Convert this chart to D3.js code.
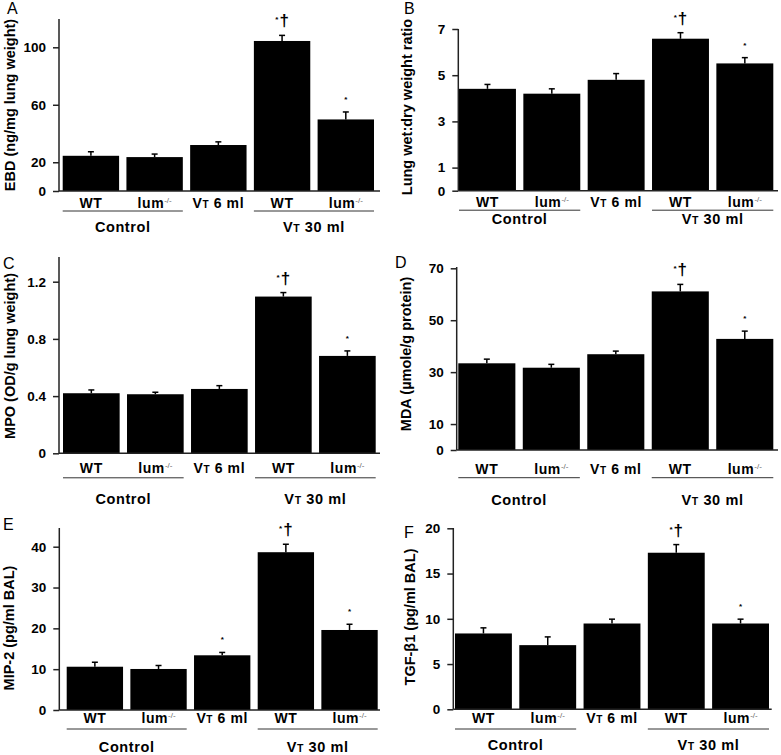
<!DOCTYPE html>
<html lang="en">
<head>
<meta charset="UTF-8">
<title>Lung injury panels</title>
<script src="https://d3js.org/d3.v7.min.js"></script>
<style>
  body { margin: 0; background: #fff; }
  svg text { font-family: "Liberation Sans", Arial, sans-serif; }
</style>
</head>
<body>
<svg id="chart" width="781" height="755"></svg>
<script>
// bar order: Control WT, Control lum-/-, VT 6 ml, VT 30 ml WT, VT 30 ml lum-/-
const categories = ["WT", "lum-/-", "VT 6 ml", "WT", "lum-/-"];
const groupNames = ["Control", "VT 30 ml"];
const groupSpans = [[0, 1], [3, 4]];

const ebdMean = [24.5, 23.6, 32.0, 104.4, 49.8];
const ebdSem = [2.8, 2.1, 2.2, 3.9, 5.2];
const ebdTicks = [0, 20, 60, 100];

const wetDryMean = [4.41, 4.20, 4.80, 6.58, 5.51];
const wetDrySem = [0.19, 0.21, 0.27, 0.26, 0.25];
const wetDryTicks = [0, 1, 3, 5, 7];

const mpoMean = [0.420, 0.413, 0.450, 1.096, 0.681];
const mpoSem = [0.023, 0.014, 0.023, 0.028, 0.035];
const mpoTicks = [0, 0.4, 0.8, 1.2];

const mdaMean = [33.4, 31.7, 36.9, 61.1, 42.8];
const mdaSem = [1.6, 1.3, 1.2, 2.7, 3.0];
const mdaTicks = [0, 10, 30, 50, 70];

const mip2Mean = [10.6, 10.05, 13.4, 38.65, 19.6];
const mip2Sem = [1.1, 0.85, 0.7, 1.95, 1.4];
const mip2Ticks = [0, 10, 20, 30, 40];

const tgfMean = [8.38, 7.09, 9.48, 17.3, 9.48];
const tgfSem = [0.62, 0.91, 0.48, 0.9, 0.48];
const tgfTicks = [0, 5, 10, 15, 20];

const marksStd = ["", "", "", "*†", "*"];
const marksMip2 = ["", "", "*", "*†", "*"];

const letters = ["A", "B", "C", "D", "E", "F"];
const yTitles = ["EBD (ng/mg lung weight)", "Lung wet:dry weight ratio", "MPO (OD/g lung weight)",
                 "MDA (\u00b5mole/g protein)", "MIP-2 (pg/ml BAL)", "TGF-\u03b21 (pg/ml BAL)"];

// layout of each panel (pixel positions only)
const layout = [
  { left: 59, right: 380, zeroY: 191, topY: 47.3, axisTop: 19, bars: [62.7, 374], letter: [7, 13.5], title: [15, 105], wt: 17, line: 20, grp: 41 },
  { left: 458.3, right: 778, zeroY: 190.7, topY: 29, axisTop: 29, bars: [459, 773.3], letter: [404, 13.5], title: [412, 107], wt: 16.5, line: 19.5, grp: 33 },
  { left: 59, right: 380, zeroY: 453.3, topY: 281.7, axisTop: 257, bars: [63, 375.7], letter: [3, 269], title: [15, 356], wt: 20, line: 24.5, grp: 51 },
  { left: 456.7, right: 778, zeroY: 450, topY: 268.3, axisTop: 267, bars: [458.3, 773.3], letter: [395, 268], title: [411, 354], wt: 24, line: 27.7, grp: 55 },
  { left: 59.3, right: 380, zeroY: 710, topY: 546.7, axisTop: 528, bars: [66.7, 377.7], letter: [3, 530], title: [14, 628], wt: 13, line: 19, grp: 42 },
  { left: 453.3, right: 771.7, zeroY: 709.3, topY: 528.3, axisTop: 528, bars: [455, 769], letter: [404, 538], title: [415, 617], wt: 13.5, line: 19.7, grp: 41 }
];

const panels = [
  { mean: ebdMean, sem: ebdSem, ticks: ebdTicks, marks: marksStd },
  { mean: wetDryMean, sem: wetDrySem, ticks: wetDryTicks, marks: marksStd },
  { mean: mpoMean, sem: mpoSem, ticks: mpoTicks, marks: marksStd },
  { mean: mdaMean, sem: mdaSem, ticks: mdaTicks, marks: marksStd },
  { mean: mip2Mean, sem: mip2Sem, ticks: mip2Ticks, marks: marksMip2 },
  { mean: tgfMean, sem: tgfSem, ticks: tgfTicks, marks: marksStd }
];

const svg = d3.select("#chart");

function writeCategory(t, label) {
  if (label.includes("-/-")) {
    t.append("tspan").text(label.replace("-/-", ""));
    t.append("tspan").attr("font-size", 8).attr("font-weight", "normal")
      .attr("fill", "#666").attr("dy", -5).attr("letter-spacing", 0).text("-/-");
  } else if (label.startsWith("VT")) {
    t.append("tspan").text("V");
    t.append("tspan").attr("font-size", 10).text("T");
    t.append("tspan").text(label.slice(2));
  } else {
    t.text(label);
  }
}

function writeGroup(t, label) {
  if (label.startsWith("VT")) {
    t.append("tspan").text("V");
    t.append("tspan").attr("font-size", 10.5).text("T");
    t.append("tspan").text(label.slice(2));
  } else {
    t.text(label);
  }
}

panels.forEach((p, i) => {
  const L = layout[i];
  const g = svg.append("g");
  const top = p.ticks[p.ticks.length - 1];

  const x = d3.scaleBand()
    .domain(d3.range(categories.length))
    .range(L.bars)
    .paddingInner(0.115)
    .paddingOuter(0);

  const y = d3.scaleLinear().domain([0, top]).range([L.zeroY, L.topY]);

  // bars
  g.selectAll("rect.bar")
    .data(p.mean)
    .enter().append("rect")
    .attr("x", (d, j) => x(j))
    .attr("y", d => y(d))
    .attr("width", x.bandwidth())
    .attr("height", d => y(0) - y(d))
    .attr("fill", "#000");

  // error bars + significance marks
  p.mean.forEach((m, j) => {
    const cx = x(j) + x.bandwidth() / 2;
    const yTop = y(m + p.sem[j]);
    g.append("line").attr("x1", cx).attr("x2", cx).attr("y1", y(m)).attr("y2", yTop)
      .attr("stroke", "#000").attr("stroke-width", 1.5);
    g.append("line").attr("x1", cx - 3).attr("x2", cx + 3).attr("y1", yTop).attr("y2", yTop)
      .attr("stroke", "#000").attr("stroke-width", 1.5);

    const mk = p.marks[j];
    if (mk === "*†") {
      const t = g.append("text").attr("x", cx).attr("y", yTop - 9)
        .attr("text-anchor", "middle").attr("font-weight", "bold");
      t.append("tspan").attr("font-size", 8).attr("dy", -4).text("*");
      t.append("tspan").attr("font-size", 17).attr("dy", 4).attr("dx", 1).text("\u2020");
    } else if (mk === "*") {
      g.append("text").attr("x", cx).attr("y", yTop - 10)
        .attr("text-anchor", "middle").attr("font-weight", "bold")
        .attr("font-size", 8).text("*");
    }
  });

  // y axis
  const axis = g.append("g")
    .attr("transform", `translate(${L.left},0)`)
    .call(d3.axisLeft(y).tickValues(p.ticks).tickSize(6).tickPadding(7)
      .tickFormat(d => String(d)));
  axis.select(".domain").remove();
  axis.selectAll(".tick line").attr("stroke", "#222").attr("stroke-width", 1.5);
  axis.selectAll(".tick text").attr("font-size", 13.5).attr("font-weight", "bold")
    .attr("fill", "#000").attr("font-family", "Liberation Sans, Arial, sans-serif");

  g.append("line").attr("x1", L.left).attr("x2", L.left)
    .attr("y1", L.zeroY).attr("y2", L.axisTop)
    .attr("stroke", "#222").attr("stroke-width", 1.5);
  g.append("line").attr("x1", L.left).attr("x2", L.right)
    .attr("y1", L.zeroY).attr("y2", L.zeroY)
    .attr("stroke", "#222").attr("stroke-width", 1.5);

  // category labels
  categories.forEach((c, j) => {
    const t = g.append("text")
      .attr("x", x(j) + x.bandwidth() / 2)
      .attr("y", L.zeroY + L.wt)
      .attr("text-anchor", "middle")
      .attr("letter-spacing", 0.6)
      .attr("font-size", 14).attr("font-weight", "bold");
    writeCategory(t, c);
  });

  // group underlines and names
  groupSpans.forEach((s, k) => {
    const x0 = x(s[0]);
    const x1 = x(s[1]) + x.bandwidth();
    g.append("line").attr("x1", x0).attr("x2", x1)
      .attr("y1", L.zeroY + L.line).attr("y2", L.zeroY + L.line)
      .attr("stroke", "#333").attr("stroke-width", 1);
    const t = g.append("text")
      .attr("x", (x0 + x1) / 2)
      .attr("y", L.zeroY + L.grp)
      .attr("text-anchor", "middle")
      .attr("letter-spacing", 0.6)
      .attr("font-size", 14.5).attr("font-weight", "bold");
    writeGroup(t, groupNames[k]);
  });

  // y title
  g.append("text")
    .attr("transform", `translate(${L.title[0]},${L.title[1]}) rotate(-90)`)
    .attr("text-anchor", "middle")
    .attr("font-size", 14.5).attr("font-weight", "bold")
    .text(yTitles[i]);

  // panel letter
  g.append("text")
    .attr("x", L.letter[0]).attr("y", L.letter[1])
    .attr("font-size", 16)
    .text(letters[i]);
});
</script>
</body>
</html>
